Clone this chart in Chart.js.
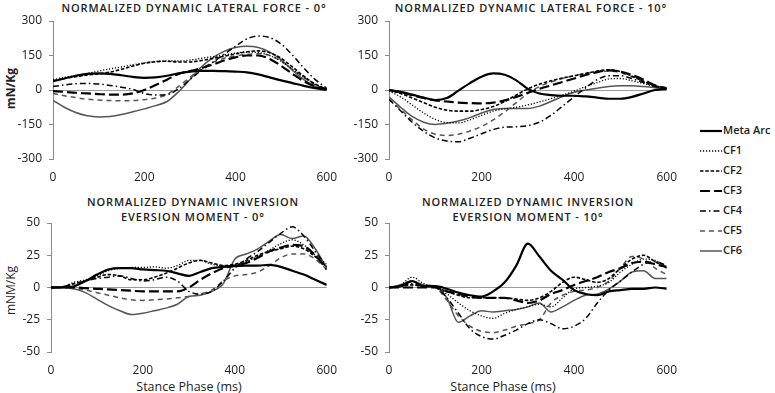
<!DOCTYPE html>
<html>
<head>
<meta charset="utf-8">
<script src="https://cdn.jsdelivr.net/npm/chart.js@4.4.0/dist/chart.umd.min.js"></script>
<style>
  body { margin: 0; background: #fff; }
  #wrap { position: relative; width: 775px; height: 393px; overflow: hidden; font-family: "Open Sans", sans-serif; color: #222; }
  .box { position: absolute; }
  .ttl { position: absolute; width: 400px; text-align: center; font-size: 11px; font-weight: 600; letter-spacing: 0.9px; line-height: 15px; white-space: nowrap; }
  .ytl { position: absolute; width: 80px; text-align: center; font-size: 12px; transform: rotate(-90deg); white-space: nowrap; }
  .xtl { position: absolute; width: 200px; text-align: center; font-size: 12.5px; white-space: nowrap; }
  .leg { position: absolute; left: 700px; height: 16px; font-size: 11px; font-weight: 600; line-height: 16px; white-space: nowrap; }
  .leg svg { position: absolute; left: 0; top: 4px; }
  .leg span { position: absolute; left: 23px; top: -1px; }
</style>
</head>
<body>
<div id="wrap">
  <div class="ttl" style="left:-6px;top:0px">NORMALIZED DYNAMIC LATERAL FORCE - 0°</div>
  <div class="ttl" style="left:331px;top:0px">NORMALIZED DYNAMIC LATERAL FORCE - 10°</div>
  <div class="ttl" style="left:-7px;top:194px">NORMALIZED DYNAMIC INVERSION<br>EVERSION MOMENT - 0°</div>
  <div class="ttl" style="left:328px;top:194px">NORMALIZED DYNAMIC INVERSION<br>EVERSION MOMENT - 10°</div>

  <div class="ytl" style="left:-30px;top:80px;font-weight:bold">mN/Kg</div>
  <div class="ytl" style="left:-30px;top:282px">mNM/Kg</div>
  <div class="xtl" style="left:89px;top:378px">Stance Phase (ms)</div>
  <div class="xtl" style="left:403px;top:378px">Stance Phase (ms)</div>

  <div class="box" style="left:0;top:0"><canvas id="force0" width="340" height="190"></canvas></div>
  <div class="box" style="left:340px;top:0"><canvas id="force10" width="340" height="190"></canvas></div>
  <div class="box" style="left:0;top:195px"><canvas id="moment0" width="340" height="198"></canvas></div>
  <div class="box" style="left:340px;top:195px"><canvas id="moment10" width="340" height="198"></canvas></div>

  <div id="legend"></div>
</div>

<script>
// x positions (ms) and axis ticks
const stanceMs = [0, 25, 50, 75, 100, 125, 150, 175, 200, 225, 250, 275, 300, 325, 350, 375, 400, 425, 450, 475, 500, 525, 550, 575, 600];
const timeTicks = [0, 200, 400, 600];
const forceTicks = [-300, -150, 0, 150, 300];
const momentTicks = [-50, -25, 0, 25, 50];
const seriesNames = ['Meta Arc', 'CF1', 'CF2', 'CF3', 'CF4', 'CF5', 'CF6'];

// Lateral force - 0 deg
const lf0Meta = [38, 50, 62, 70, 72, 70, 64, 57, 53, 55, 62, 72, 80, 83, 83, 82, 80, 77, 68, 55, 42, 30, 18, 8, 0];
const lf0Cf1 = [45, 55, 63, 72, 82, 92, 100, 110, 118, 124, 126, 126, 130, 138, 145, 152, 160, 165, 163, 150, 125, 90, 55, 25, 5];
const lf0Cf2 = [40, 50, 58, 65, 70, 78, 90, 104, 116, 123, 125, 122, 122, 128, 137, 147, 157, 166, 170, 162, 138, 100, 60, 25, 5];
const lf0Cf3 = [-5, -8, -12, -15, -18, -20, -20, -15, 0, 22, 45, 70, 82, 95, 110, 128, 142, 150, 150, 135, 105, 70, 38, 15, 3];
const lf0Cf4 = [15, 22, 27, 28, 26, 20, 12, 3, -15, -22, -20, 5, 45, 85, 120, 155, 190, 222, 235, 228, 200, 152, 95, 45, 8];
const lf0Cf5 = [-15, -25, -33, -40, -44, -46, -47, -46, -42, -35, -20, 15, 55, 92, 120, 138, 148, 155, 158, 150, 125, 90, 55, 22, 5];
const lf0Cf6 = [-45, -75, -98, -112, -117, -115, -107, -95, -82, -68, -50, -8, 45, 100, 140, 168, 185, 190, 185, 165, 132, 85, 45, 15, 2];

// Lateral force - 10 deg
const lf10Meta = [0, -8, -20, -33, -44, -35, -3, 30, 58, 72, 66, 42, 5, -15, -22, -25, -25, -28, -33, -38, -38, -30, -15, 0, 5];
const lf10Cf1 = [-5, -30, -65, -100, -128, -142, -143, -130, -110, -92, -82, -75, -65, -52, -38, -22, -5, 15, 32, 48, 50, 40, 28, 15, 8];
const lf10Cf2 = [0, -15, -35, -55, -75, -88, -92, -92, -85, -72, -50, -22, 5, 25, 40, 52, 62, 72, 82, 88, 80, 60, 38, 18, 8];
const lf10Cf3 = [0, -10, -22, -35, -45, -50, -55, -57, -58, -55, -45, -30, -12, 5, 20, 35, 50, 65, 78, 85, 80, 65, 45, 20, 8];
const lf10Cf4 = [-40, -90, -140, -180, -208, -222, -225, -210, -190, -172, -162, -160, -155, -140, -110, -70, -30, 10, 45, 62, 62, 50, 32, 15, 5];
const lf10Cf5 = [-40, -85, -130, -170, -192, -198, -192, -178, -158, -130, -95, -55, -15, 15, 35, 50, 62, 72, 80, 82, 75, 58, 38, 18, 8];
const lf10Cf6 = [-30, -75, -115, -140, -150, -145, -135, -120, -100, -85, -80, -80, -80, -70, -50, -28, -10, 0, 8, 15, 18, 18, 15, 10, 5];

// Inversion/eversion moment - 0 deg
const im0Meta = [0, 0, 1, 5, 10, 14, 15, 15, 14, 13.5, 13, 11, 9, 12, 15, 16, 16.5, 17, 17, 17.5, 16, 13, 10, 6, 2];
const im0Cf1 = [0, 0.5, 4, 6, 9, 13, 15, 15.5, 15.5, 16, 15, 17, 21, 21, 18, 17, 17, 20, 24, 29, 34, 37, 33, 25, 18];
const im0Cf2 = [0, 0.5, 3, 5, 8, 10, 9, 6, 6, 8, 11, 15, 19, 21, 19, 17, 18, 21, 25, 28, 30, 32, 30, 24, 16];
const im0Cf3 = [0, 0, 0, -0.5, -1, -1.5, -2, -2.5, -3, -3, -3, -3, 0, 6, 11, 15, 17, 19, 23, 28, 31, 33, 32, 25, 14];
const im0Cf4 = [0, 0.5, 3, 5, 7, 8, 9, 7, 5, 6, 8, 5, -3, -5, -3, 5, 15, 22, 28, 35, 42, 47, 40, 28, 16];
const im0Cf5 = [0, 0, -1, -2, -4, -6, -8, -9.5, -10, -9.5, -9, -8, -7, -5, -2, 5, 9, 10, 12, 17, 23, 26, 26, 22, 14];
const im0Cf6 = [0, 0, -1, -4, -9, -14, -18, -21, -20, -18, -16, -13, -7, -6, -3, 3, 22, 26, 30, 36, 41, 38, 40, 30, 15];

// Inversion/eversion moment - 10 deg
const im10Meta = [0, 1, 5, 1, 1, -1, -4, -6, -7, -3, 4, 17, 34, 24, 13, 6, -2, -5, -6, -3, -2, -1, -1, 0, -1];
const im10Cf1 = [0, 2, 8, 3, 0, -5, -12, -18, -22, -24, -20, -17, -15, -13, -15, -8, -1, 0, 1, 4, 12, 18, 22, 21, 15];
const im10Cf2 = [0, 1, 2, 1, 0, -3, -6, -8, -8, -8, -8, -9, -10, -8, -3, 4, 8, 6, 4, 7, 15, 22, 25, 20, 15];
const im10Cf3 = [0, 0, 0, 0, 0, -3, -5, -7, -8, -8, -8, -10, -12, -10, -5, -2, 2, 5, 8, 12, 15, 19, 20, 18, 16];
const im10Cf4 = [0, 1, 3, 1, 0, -8, -20, -32, -38, -40, -37, -33, -28, -25, -28, -32, -30, -24, -12, -2, 5, 12, 18, 20, 17];
const im10Cf5 = [0, 2, 5, 1, 0, -10, -22, -30, -34, -35, -33, -30, -28, -25, -12, -6, -3, -2, 0, 5, 15, 24, 22, 15, 10];
const im10Cf6 = [0, 2, 5, 2, 1, -8, -27, -22, -18, -19, -18, -17, -15, -12, -19, -15, -10, -6, -5, -1, 5, 12, 13, 7, 7];

// line looks, same order as seriesNames
const STYLES = [
    { color: '#000', width: 2.2, dash: [] },
    { color: '#000', width: 1.3, dash: [1.2, 1.8] },
    { color: '#000', width: 1.6, dash: [3.5, 1.8] },
    { color: '#000', width: 2.2, dash: [10, 4] },
    { color: '#000', width: 1.5, dash: [6, 3, 1.5, 3] },
    { color: '#555', width: 1.5, dash: [5, 4] },
    { color: '#555', width: 1.5, dash: [] },
];

const tickFont = { family: '"Open Sans", sans-serif', size: 12 };

function makePanel(id, series, yTicks, yWidth, padRight, padTop, xHeight) {
    new Chart(document.getElementById(id), {
        type: 'line',
        data: {
            labels: stanceMs,
            datasets: series.map((vals, i) => ({
                label: seriesNames[i],
                data: vals,
                borderColor: STYLES[i].color,
                borderWidth: STYLES[i].width,
                borderDash: STYLES[i].dash,
                pointRadius: 0,
                cubicInterpolationMode: 'monotone',
                fill: false
            }))
        },
        options: {
            responsive: false,
            animation: false,
            layout: { padding: { left: 0, right: padRight, top: padTop, bottom: 0 } },
            plugins: { legend: { display: false }, tooltip: { enabled: false } },
            scales: {
                x: {
                    type: 'linear',
                    min: timeTicks[0],
                    max: timeTicks[timeTicks.length - 1],
                    grid: { display: false },
                    border: { display: false },
                    ticks: { font: tickFont, color: '#222', padding: 3, maxRotation: 0, autoSkip: false },
                    afterBuildTicks: s => { s.ticks = timeTicks.map(v => ({ value: v })); },
                    afterFit: s => { s.height = xHeight; }
                },
                y: {
                    min: yTicks[0],
                    max: yTicks[yTicks.length - 1],
                    border: { display: true, color: '#8a8a8a', width: 1 },
                    grid: {
                        color: c => (c.tick && c.tick.value === 0) ? '#9a9a9a' : 'rgba(0,0,0,0)',
                        tickColor: '#8a8a8a',
                        tickLength: 4,
                        lineWidth: 1
                    },
                    ticks: { font: tickFont, color: '#222', padding: 7 },
                    afterBuildTicks: s => { s.ticks = yTicks.map(v => ({ value: v })); },
                    afterFit: s => { s.width = yWidth; }
                }
            }
        }
    });
}

makePanel('force0', [lf0Meta, lf0Cf1, lf0Cf2, lf0Cf3, lf0Cf4, lf0Cf5, lf0Cf6], forceTicks, 53, 13, 21, 31);
makePanel('force10', [lf10Meta, lf10Cf1, lf10Cf2, lf10Cf3, lf10Cf4, lf10Cf5, lf10Cf6], forceTicks, 49, 12, 21, 31);
makePanel('moment0', [im0Meta, im0Cf1, im0Cf2, im0Cf3, im0Cf4, im0Cf5, im0Cf6], momentTicks, 51, 12, 28, 41);
makePanel('moment10', [im10Meta, im10Cf1, im10Cf2, im10Cf3, im10Cf4, im10Cf5, im10Cf6], momentTicks, 49, 12, 28, 41);

// Legend
const legend = document.getElementById('legend');
seriesNames.forEach((name, i) => {
    const st = STYLES[i];
    legend.innerHTML += `
        <div class="leg" style="top:${123 + i * 20}px">
            <svg width="23" height="8"><line x1="0" y1="4" x2="22" y2="4" stroke="${st.color}" stroke-width="${st.width}" stroke-dasharray="${st.dash.join(' ') || 'none'}"/></svg>
            <span>${name}</span>
        </div>`;
});
</script>
</body>
</html>
